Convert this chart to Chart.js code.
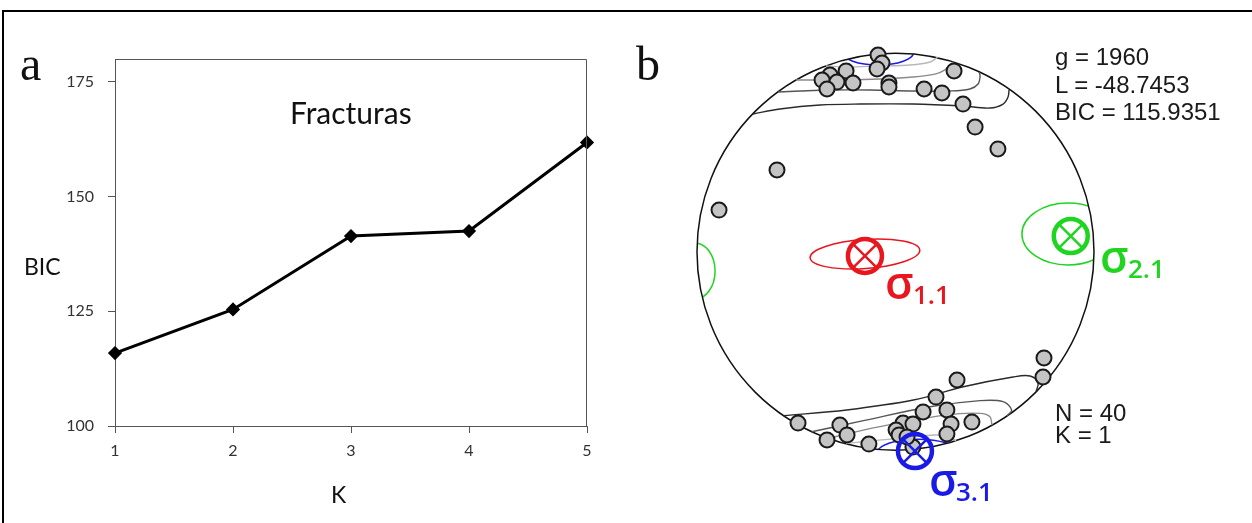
<!DOCTYPE html>
<html>
<head>
<meta charset="utf-8">
<script src="https://cdn.jsdelivr.net/npm/chart.js@4"></script>
<style>
  html, body { margin: 0; padding: 0; background: #fff; }
  body { width: 1252px; height: 523px; position: relative; overflow: hidden; }
  canvas { position: absolute; }
  #frame { position: absolute; left: 2px; top: 10px; width: 1400px; height: 700px;
           border-left: 2px solid #000; border-top: 2px solid #000; }
  .t { position: absolute; white-space: nowrap; line-height: 1; }
  .lato { font-family: Lato, "Open Sans", sans-serif; color: #111; }
  .serif { font-family: "Liberation Serif", "DejaVu Serif", serif; color: #111; font-size: 48px; }
  .stats { position: absolute; font-family: "Liberation Sans", Arial, sans-serif; font-size: 24px; color: #1a1a1a; white-space: nowrap; }
  .sig { position: absolute; font-family: "Open Sans", sans-serif; font-weight: 600; line-height: 1; white-space: nowrap; }
  .sig .s { font-size: 45px; }
  .sig .n { position: absolute; font-size: 26px; }
</style>
</head>
<body>
<div id="frame"></div>
<canvas id="bicChart" width="620" height="523" style="left:0;top:0"></canvas>
<canvas id="stereo" width="632" height="523" style="left:620px;top:0"></canvas>

<div class="t serif" style="left:20px;top:40px">a</div>
<div class="t serif" style="left:636px;top:40px">b</div>
<div class="t lato" style="left:290px;top:97px;font-size:30px">Fracturas</div>
<div class="t lato" style="left:24px;top:255px;font-size:23px">BIC</div>
<div class="t lato" style="left:331px;top:483px;font-size:23px">K</div>

<div class="stats" style="left:1055px;top:43px;line-height:27.5px">g = 1960<br>L = -48.7453<br>BIC = 115.9351</div>
<div class="stats" style="left:1055px;top:402px;line-height:22px">N = 40<br>K = 1</div>

<div class="sig" style="left:885px;top:259px;color:#e8161e"><span class="s">σ</span><span class="n" style="left:28px;top:22px">1.1</span></div>
<div class="sig" style="left:1100px;top:233px;color:#1fd51f"><span class="s">σ</span><span class="n" style="left:28px;top:22px">2.1</span></div>
<div class="sig" style="left:929px;top:456px;color:#1a1ae6"><span class="s">σ</span><span class="n" style="left:27px;top:22px">3.1</span></div>

<script>
// panel a: BIC against number of clusters K
const kLabels = ["1", "2", "3", "4", "5"];
const bicValues = [115.9, 125.4, 141.4, 142.5, 161.8];
const bicTicks = [100, 125, 150, 175];

// panel b: stereonet, unit circle radius = 100
const poleX = [-8.8, -6.8, -9.3, -24.9, -33.0, -37.0, -29.5, -21.4, -34.5, -3.3, -3.3, 14.4, 23.4, 29.5, 34.0, 40.1, 51.6, -59.7, -88.9,
               31.0, 20.4, 13.9, 25.9, 38.5, 28.0, 25.9, 3.8, 8.8, 0.3, 1.8, -49.1, -28.0, -24.4, -34.5, -13.4, 8.8, 74.8, 74.3, 5.8];
const poleY = [99.1, 95.1, 92.1, 91.1, 89.0, 86.5, 85.5, 85.0, 82.0, 85.0, 83.0, 82.0, 80.0, 91.1, 74.4, 62.8, 51.8, 41.2, 21.0,
               -64.6, -73.2, -80.7, -79.7, -85.8, -86.8, -91.8, -86.3, -86.8, -89.8, -92.3, -86.3, -87.3, -92.3, -94.8, -96.9, -98.4, -53.5, -63.1, -93.3];

const sigmaX = [-15.4, 88.3, 9.8];
const sigmaY = [-2.1, 7.9, -100.4];

// confidence cones: centre, half axes, tilt (deg), which sigma
const coneX = [-15.4, 86.9, -101, 11.3, -8.8];
const coneY = [-1.1, 8.9, -9.7, -100.9, 100.6];
const coneRx = [27.7, 23.2, 10.1, 20.2, 18];
const coneRy = [7.3, 15.6, 14.1, 6.5, 6.5];
const coneTilt = [-4, 0, 0, 0, 0];
const coneOf = [0, 1, 1, 2, 2];

// density contours (outer to inner)
const topContours = [
  [[-71.8, 69.4], [-58.2, 71.9], [-38.0, 73.9], [-17.9, 74.4], [8.8, 74.4], [34.0, 73.4], [47.6, 72.4], [54.2, 74.4], [56.7, 78.0], [57.2, 81.5]],
  [[-59.2, 80.5], [-48.1, 81.0], [-33.0, 81.5], [-12.8, 81.5], [8.8, 81.0], [27.5, 81.0], [37.5, 82.0], [41.6, 84.5], [42.6, 88.5], [42.1, 90.6]],
  [[-50.1, 86.5], [-38.0, 86.5], [-24.4, 86.5], [-7.8, 87.0], [8.8, 88.0], [19.9, 89.5], [24.9, 91.6], [29.0, 95.6]],
  [[-35.0, 93.6], [-25.4, 93.1], [-7.8, 93.6], [7.3, 94.1], [17.4, 95.6], [21.4, 98.1]]
];
const bottomContours = [
  [[-56.4, -82.6], [-24.6, -79.7], [9.0, -74.7], [34.2, -68.0], [59.2, -63.1], [67.8, -62.6], [71.8, -66.1], [70.8, -70.5]],
  [[-42.2, -90.7], [-16.2, -85.1], [17.4, -78.1], [42.6, -75.0], [54.2, -75.5], [58.5, -79.7], [56.2, -82.7]],
  [[-34.2, -94.0], [-7.8, -88.1], [25.8, -82.2], [42.6, -81.4], [47.6, -83.1], [48.6, -87.3]],
  [[-24.9, -96.6], [-12.8, -95.3], [4.8, -93.8], [19.9, -92.3], [27.5, -93.3], [30.5, -95.3]]
];

const sigmaColor = ["#e8161e", "#1fd51f", "#1a1ae6"];
const contourColor = ["#2a2a2a", "#555", "#8a8a8a", "#b8b8b8"];
const axisGray = "#555";

const plotFrame = {
  id: "plotFrame",
  afterDraw(chart) {
    const {ctx, chartArea: a} = chart;
    ctx.save();
    ctx.strokeStyle = axisGray;
    ctx.lineWidth = 1;
    ctx.beginPath();
    ctx.moveTo(a.left, a.top + 0.5);
    ctx.lineTo(a.right - 0.5, a.top + 0.5);
    ctx.lineTo(a.right - 0.5, a.bottom);
    ctx.stroke();
    ctx.restore();
  }
};

new Chart(document.getElementById("bicChart"), {
  type: "line",
  data: {
    labels: kLabels,
    datasets: [{
      data: bicValues, borderColor: "#000", borderWidth: 3, tension: 0,
      pointStyle: "rectRot", pointRadius: 5, pointBackgroundColor: "#000", pointBorderColor: "#000", clip: false
    }]
  },
  options: {
    responsive: false, animation: false, events: [],
    layout: {padding: {top: 59, right: 33, left: 0, bottom: 0}},
    plugins: {legend: {display: false}, tooltip: {enabled: false}},
    scales: {
      x: {
        offset: false,
        grid: {drawOnChartArea: false, tickLength: 7, color: axisGray},
        border: {color: axisGray},
        ticks: {color: "#333", font: {family: "Lato", size: 16}, padding: 8, maxRotation: 0},
        afterFit: s => { s.height = 97; }
      },
      y: {
        min: 100, max: 180,
        afterBuildTicks: s => { s.ticks = bicTicks.map(v => ({value: v})); },
        grid: {drawOnChartArea: false, tickLength: 7, color: axisGray},
        border: {color: axisGray},
        ticks: {color: "#333", font: {family: "Lato", size: 16}, padding: 14},
        afterFit: s => { s.width = 115; }
      }
    }
  },
  plugins: [plotFrame]
});

const cones = {
  id: "cones",
  beforeDatasetsDraw(chart) {
    const {ctx, scales: {x, y}} = chart;
    const cx = x.getPixelForValue(0), cy = y.getPixelForValue(0);
    const R = x.getPixelForValue(100) - cx;
    ctx.save();
    ctx.beginPath();
    ctx.arc(cx, cy, R, 0, Math.PI * 2);
    ctx.clip();
    coneX.forEach((v, i) => {
      const px = x.getPixelForValue(v), py = y.getPixelForValue(coneY[i]);
      const rx = x.getPixelForValue(v + coneRx[i]) - px;
      const ry = py - y.getPixelForValue(coneY[i] + coneRy[i]);
      ctx.beginPath();
      ctx.ellipse(px, py, rx, ry, coneTilt[i] * Math.PI / 180, 0, Math.PI * 2);
      ctx.strokeStyle = sigmaColor[coneOf[i]];
      ctx.lineWidth = 1.5;
      ctx.stroke();
    });
    ctx.restore();
  }
};

const toPts = c => c.map(p => ({x: p[0], y: p[1]}));
const contourSets = [...topContours, ...bottomContours].map((c, i) => ({
  data: toPts(c), showLine: true, pointRadius: 0, borderWidth: 1.4,
  borderColor: contourColor[i % 4], tension: 0.35, order: 2
}));

const sigmaPts = sigmaX.map((v, i) => ({x: v, y: sigmaY[i]}));

new Chart(document.getElementById("stereo"), {
  type: "scatter",
  data: {
    datasets: [
      {data: sigmaPts, pointStyle: "circle", pointRadius: 17, borderWidth: 4.5,
       pointBorderColor: sigmaColor, pointBackgroundColor: "rgba(0,0,0,0)", clip: false, order: 0},
      {data: sigmaPts, pointStyle: "crossRot", pointRadius: 17, borderWidth: 2.5,
       pointBorderColor: sigmaColor, clip: false, order: 0},
      {data: poleX.map((v, i) => ({x: v, y: poleY[i]})), pointRadius: 7.5, borderWidth: 2,
       pointBackgroundColor: "#c4c4c4", pointBorderColor: "#1a1a1a", clip: false, order: 1},
      ...contourSets,
      {data: [{x: 0, y: 0}], pointStyle: "circle", borderWidth: 1.5,
       pointRadius: c => c.chart.scales.x.getPixelForValue(100) - c.chart.scales.x.getPixelForValue(0),
       pointBorderColor: "#111", pointBackgroundColor: "rgba(0,0,0,0)", clip: false, order: 3}
    ]
  },
  options: {
    responsive: false, animation: false, events: [],
    layout: {padding: {left: 77, top: 53.25, right: 158, bottom: 72.75}},
    plugins: {legend: {display: false}, tooltip: {enabled: false}},
    scales: {
      x: {type: "linear", min: -100, max: 100, display: false},
      y: {type: "linear", min: -100, max: 100, display: false}
    }
  },
  plugins: [cones]
});
</script>
</body>
</html>
